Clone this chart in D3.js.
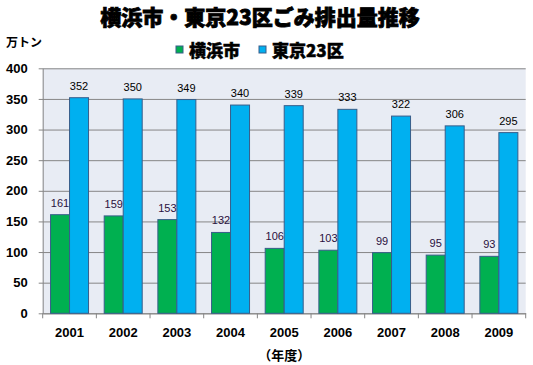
<!DOCTYPE html>
<html><head><meta charset="utf-8">
<script src="https://cdn.jsdelivr.net/npm/d3@7"></script>
<style>body{margin:0;background:#fff;}svg{display:block;}</style>
</head><body>
<script>
const years = ["2001","2002","2003","2004","2005","2006","2007","2008","2009"];
const yokohama = [161,159,153,132,106,103,99,95,93];
const tokyo23 = [352,350,349,340,339,333,322,306,295];
const seriesNames = ["横浜市","東京23区"];
const yTicks = [0,50,100,150,200,250,300,350,400];

const W=533,H=365;
const m={l:42.7,r:525.7,t:68.3,b:313.3};
const svg=d3.select("body").append("svg").attr("width",W).attr("height",H);
const font="'Noto Sans CJK JP','Liberation Sans',Arial,sans-serif";
const x=d3.scaleBand().domain(years).range([m.l,m.r]).paddingInner(0).paddingOuter(0);
const y=d3.scaleLinear().domain([0,400]).range([m.b,m.t]);

svg.append("rect").attr("x",m.l).attr("y",m.t).attr("width",m.r-m.l).attr("height",m.b-m.t).attr("fill","#E8ECF4");

// gridlines + y axis
const ya=svg.append("g").attr("transform",`translate(${m.l},0)`)
 .call(d3.axisLeft(y).tickValues(yTicks).tickSize(-(m.r-m.l)).tickSizeOuter(0).tickPadding(16));
ya.select(".domain").attr("stroke","#868686");
ya.selectAll(".tick line").attr("stroke","#868686").attr("x1",-4);
ya.selectAll(".tick text").attr("font-family","'Liberation Sans',Arial,sans-serif").attr("font-weight","bold").attr("font-size",13).attr("fill","#000").attr("x",-15);

// x axis
const xa=svg.append("g").attr("transform",`translate(0,${m.b})`)
 .call(d3.axisBottom(x).tickSize(0).tickPadding(14));
xa.select(".domain").attr("stroke","#868686");
xa.selectAll(".tick text").attr("font-family","'Liberation Sans',Arial,sans-serif").attr("font-weight","bold").attr("font-size",13).attr("fill","#000");
// boundary ticks
const bounds=years.map(d=>x(d)).concat([m.r]);
svg.append("g").selectAll("line").data(bounds).join("line")
 .attr("x1",d=>d).attr("x2",d=>d).attr("y1",m.b).attr("y2",m.b+5).attr("stroke","#868686");

const bw=x.bandwidth()*0.354;
const colors=["#00B050","#00B0F0"];
const data=[yokohama,tokyo23];
data.forEach((vals,si)=>{
  const g=svg.append("g");
  g.selectAll("rect").data(vals).join("rect")
   .attr("x",(d,i)=>x(years[i])+x.bandwidth()/2-bw+si*bw)
   .attr("y",d=>y(d)).attr("width",bw).attr("height",d=>y(0)-y(d))
   .attr("fill",colors[si]).attr("stroke","#385D8A").attr("stroke-width",1);
  g.selectAll("text").data(vals).join("text")
   .attr("x",(d,i)=>x(years[i])+x.bandwidth()/2-bw/2+si*bw)
   .attr("y",d=>y(d)-8)
   .attr("text-anchor","middle").attr("font-family","'Liberation Sans',Arial,sans-serif")
   .attr("font-size",11).attr("fill",si===0?"#2a1040":"#000").text(d=>d);
});

// title
svg.append("text").attr("x",260).attr("y",25).attr("text-anchor","middle")
 .attr("font-family",font).attr("font-weight","900").attr("font-size",21)
 .attr("fill","#000").attr("stroke","#000").attr("stroke-width",0.8).text("横浜市・東京23区ごみ排出量推移");

// unit
svg.append("text").attr("x",6).attr("y",47).attr("font-family",font).attr("font-weight","bold")
 .attr("font-size",12).attr("fill","#000").text("万トン");

// legend
const leg=[{x:176,c:colors[0],t:seriesNames[0]},{x:259,c:colors[1],t:seriesNames[1]}];
leg.forEach(l=>{
  svg.append("rect").attr("x",l.x).attr("y",46).attr("width",7).attr("height",7).attr("fill",l.c).attr("stroke","#385D8A");
  svg.append("text").attr("x",l.x+13).attr("y",57).attr("font-family",font).attr("font-weight","900")
   .attr("font-size",17).attr("fill","#000").attr("stroke","#000").attr("stroke-width",0.5).text(l.t);
});

// x axis title
svg.append("text").attr("x",(m.l+m.r)/2).attr("y",360).attr("text-anchor","middle")
 .attr("font-family",font).attr("font-weight","bold").attr("font-size",13).attr("fill","#000").text("（年度）");
</script>
</body></html>
